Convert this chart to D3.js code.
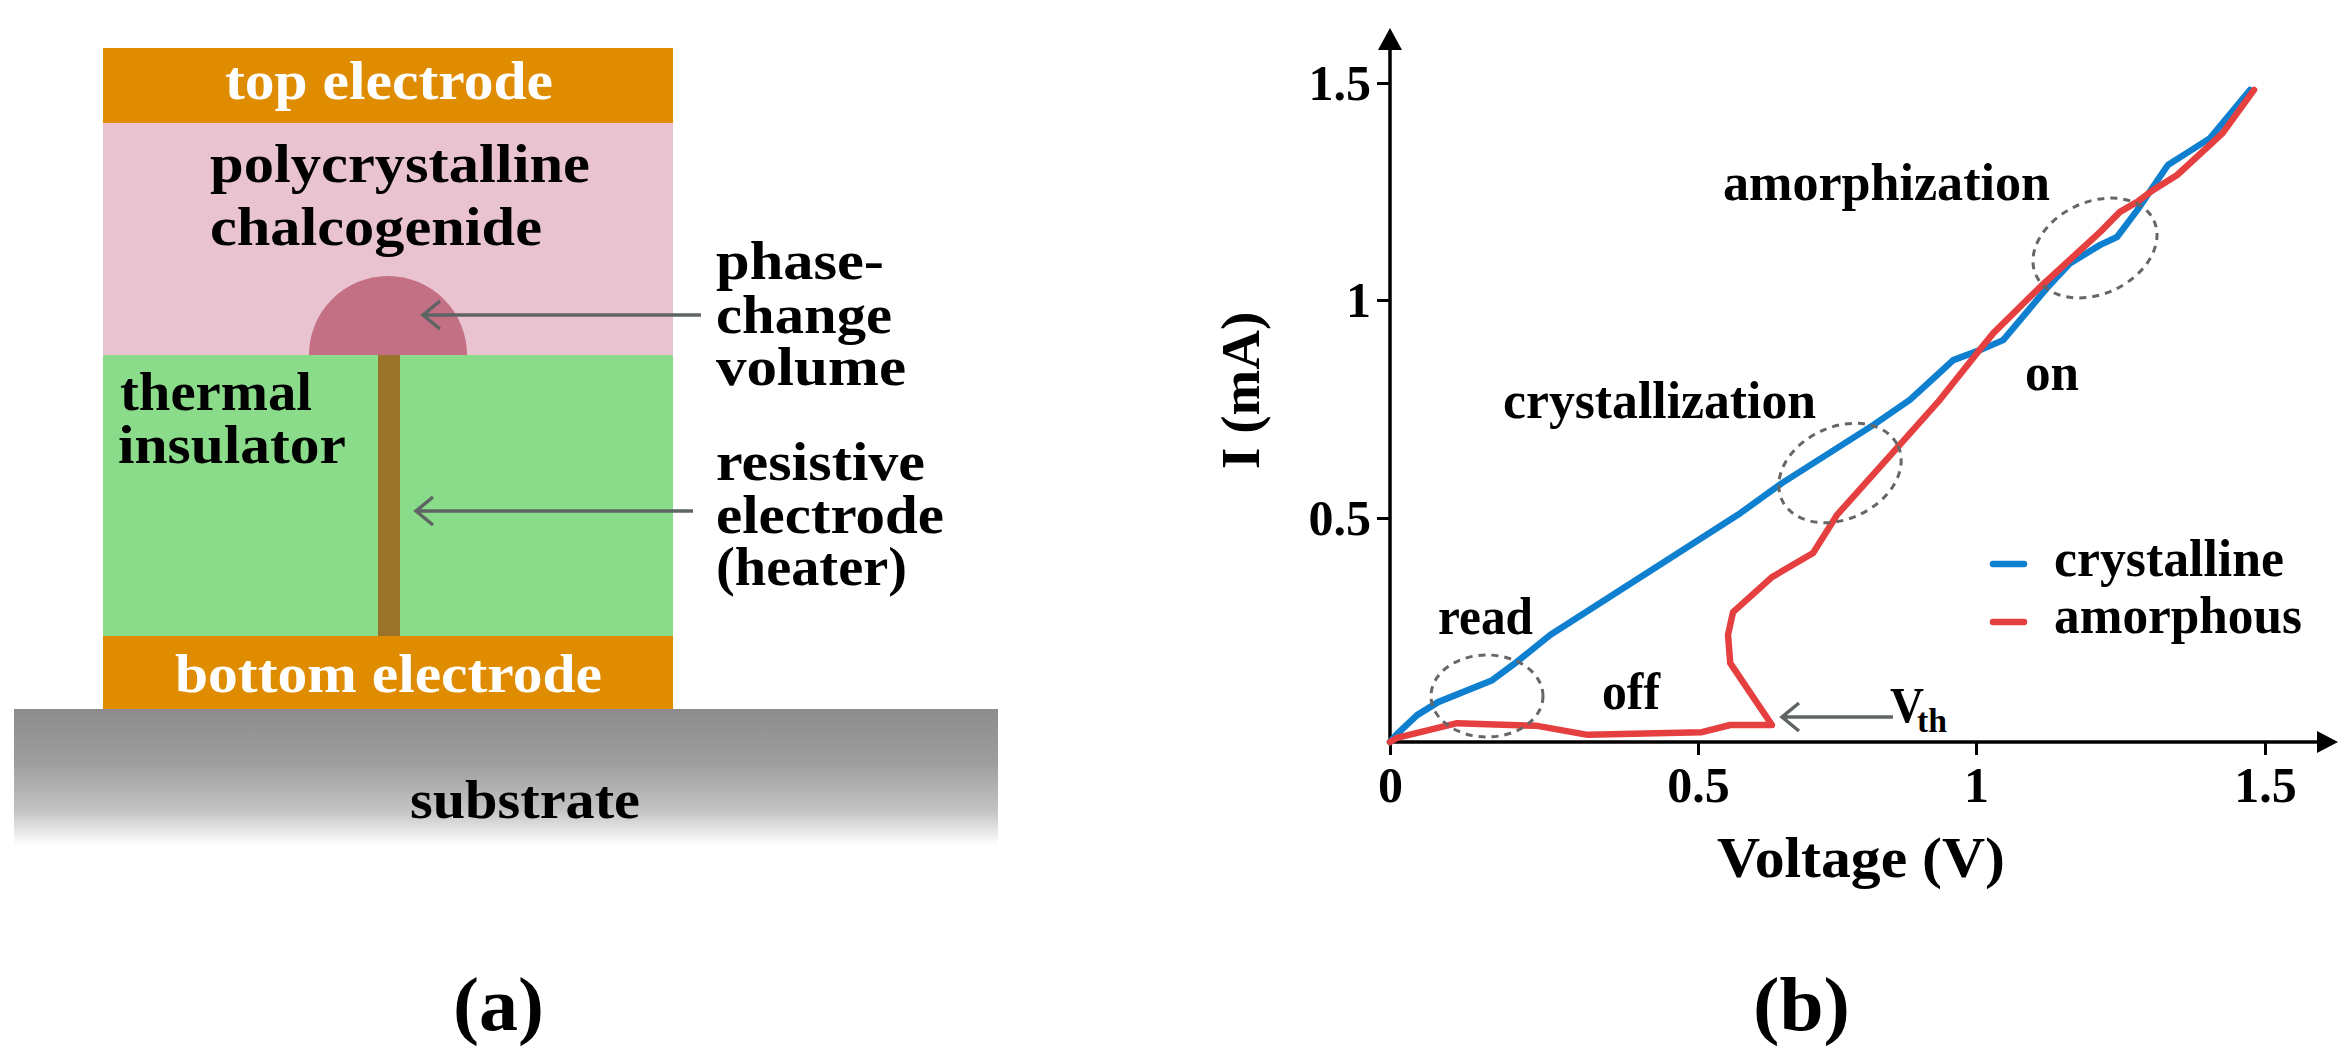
<!DOCTYPE html>
<html>
<head>
  <title>Phase-change memory cell and I-V curve</title>
  <script src="https://d3js.org/d3.v7.min.js"></script>
  <style>
    body { margin: 0; background: #fff; }
    svg { display: block; }
    text { font-family: "Liberation Serif", serif; font-weight: 700; fill: #000; }
    .line { fill: none; stroke-width: 6.5px; stroke-linejoin: round; stroke-linecap: round; }
    .crystalline { stroke: #0f7fd0; }
    .amorphous { stroke: #e5403f; }
    .ring { fill: none; stroke: #666; stroke-width: 3px; stroke-dasharray: 7 6; }
    .pointer { fill: none; stroke: #5f6464; stroke-width: 3.5px; }
  </style>
</head>
<body>
  <svg width="2349" height="1059"></svg>

  <script>
    const crystallineV = [0, 0.013, 0.044, 0.078, 0.166, 0.206, 0.26, 0.576, 0.651, 0.815, 0.881, 0.93, 0.959, 1.007, 1.047, 1.123, 1.163, 1.215, 1.244, 1.279, 1.306, 1.332, 1.365, 1.405, 1.427, 1.474];
    const crystallineI = [0, 0.02, 0.06, 0.089, 0.138, 0.179, 0.239, 0.511, 0.58, 0.713, 0.771, 0.828, 0.862, 0.885, 0.908, 1.028, 1.085, 1.127, 1.145, 1.207, 1.26, 1.311, 1.339, 1.373, 1.408, 1.484];
    const amorphousV = [0, 0.011, 0.109, 0.239, 0.321, 0.507, 0.558, 0.633, 0.558, 0.554, 0.563, 0.633, 0.707, 0.75, 0.858, 0.935, 1.003, 1.03, 1.111, 1.215, 1.249, 1.279, 1.306, 1.348, 1.41, 1.427, 1.481];
    const amorphousI = [0, 0.009, 0.042, 0.036, 0.016, 0.022, 0.038, 0.038, 0.176, 0.239, 0.29, 0.368, 0.422, 0.507, 0.661, 0.771, 0.88, 0.924, 1.03, 1.157, 1.203, 1.226, 1.253, 1.288, 1.364, 1.385, 1.484];
    const xTicks = [0, 0.5, 1, 1.5];
    const yTicks = [0.5, 1, 1.5];

    const svg = d3.select("svg");

    // ticks in the picture are not quite evenly spaced, so the scales have one segment per tick
    const x = d3.scaleLinear().domain(xTicks).range([1390, 1698, 1976, 2265]);
    const y = d3.scaleLinear().domain([0, 0.5, 1, 1.5]).range([742, 518, 300, 83]);

    function label(str, lx, ly, size, width, fill) {
      return svg.append("text")
        .attr("x", lx).attr("y", ly)
        .attr("font-size", size)
        .attr("textLength", width)
        .attr("lengthAdjust", "spacingAndGlyphs")
        .style("fill", fill || "#000")
        .text(str);
    }

    // Panel (a): cell stack
    const defs = svg.append("defs");
    const grad = defs.append("linearGradient").attr("id", "substrate")
      .attr("x1", 0).attr("y1", 0).attr("x2", 0).attr("y2", 1);
    grad.append("stop").attr("offset", "0").attr("stop-color", "#8c8c8c");
    grad.append("stop").attr("offset", "0.4").attr("stop-color", "#9e9e9e");
    grad.append("stop").attr("offset", "0.75").attr("stop-color", "#c4c4c4");
    grad.append("stop").attr("offset", "1").attr("stop-color", "#ffffff");

    svg.append("rect").attr("x", 14).attr("y", 709).attr("width", 984).attr("height", 136).attr("fill", "url(#substrate)");
    svg.append("rect").attr("x", 103).attr("y", 48).attr("width", 570).attr("height", 75).attr("fill", "#e08c00");
    svg.append("rect").attr("x", 103).attr("y", 123).attr("width", 570).attr("height", 232).attr("fill", "#e9c3cf");
    svg.append("rect").attr("x", 103).attr("y", 355).attr("width", 570).attr("height", 281).attr("fill", "#8adc8a");
    svg.append("rect").attr("x", 103).attr("y", 636).attr("width", 570).attr("height", 73).attr("fill", "#e08c00");
    svg.append("rect").attr("x", 378).attr("y", 355).attr("width", 22).attr("height", 281).attr("fill", "#9a732a");
    svg.append("path")
      .attr("transform", "translate(388,355)")
      .attr("d", d3.arc()({ innerRadius: 0, outerRadius: 79, startAngle: -Math.PI / 2, endAngle: Math.PI / 2 }))
      .attr("fill", "#c37084");

    label("top electrode", 225, 99, 54, 328, "#fff");
    label("polycrystalline", 210, 182, 54, 380);
    label("chalcogenide", 210, 245, 54, 332);
    label("thermal", 120, 410, 54, 192);
    label("insulator", 118, 463, 54, 228);
    label("bottom electrode", 175, 692, 54, 427, "#fff");
    label("substrate", 410, 818, 54, 230);
    label("phase-", 716, 279, 54, 168);
    label("change", 716, 333, 54, 176);
    label("volume", 716, 385, 54, 190);
    label("resistive", 716, 480, 54, 209);
    label("electrode", 716, 533, 54, 228);
    label("(heater)", 716, 585, 54, 191);
    label("(a)", 453, 1030, 76, 91);
    label("(b)", 1753, 1030, 76, 97);

    function pointer(tipX, endX, py) {
      svg.append("path").attr("class", "pointer")
        .attr("d", `M${endX},${py}H${tipX}M${tipX + 17},${py - 14}L${tipX},${py}L${tipX + 17},${py + 14}`);
    }
    pointer(423, 701, 315);
    pointer(416, 693, 511);

    // Panel (b): axes
    const xAxis = svg.append("g")
      .attr("transform", `translate(0,${y(0)})`)
      .call(d3.axisBottom(x).tickValues(xTicks).tickFormat(d => d).tickSize(13).tickSizeOuter(0));
    const yAxis = svg.append("g")
      .attr("transform", `translate(${x(0)},0)`)
      .call(d3.axisLeft(y).tickValues(yTicks).tickFormat(d => d).tickSize(13).tickSizeOuter(0));

    xAxis.select(".domain").remove();
    yAxis.select(".domain").remove();
    xAxis.selectAll(".tick line").attr("stroke", "#000").attr("stroke-width", 3);
    yAxis.selectAll(".tick line").attr("stroke", "#000").attr("stroke-width", 3);
    xAxis.selectAll("text").attr("y", 60).attr("dy", 0).attr("font-size", 50).attr("font-family", null);
    yAxis.selectAll("text").attr("x", -19).attr("dy", 16).attr("font-size", 50).attr("font-family", null);
    xAxis.attr("font-family", null);
    yAxis.attr("font-family", null);

    svg.append("path").attr("d", `M${x(0)},${y(0)}H2320`).attr("stroke", "#000").attr("stroke-width", 3.5);
    svg.append("path").attr("d", `M${x(0)},${y(0)}V48`).attr("stroke", "#000").attr("stroke-width", 3.5);
    svg.append("path").attr("d", "M2338,742L2317,731V753Z").attr("fill", "#000");
    svg.append("path").attr("d", "M1390,28L1378,50H1402Z").attr("fill", "#000");

    label("Voltage (V)", 1717, 877, 56, 288);
    svg.append("text")
      .attr("transform", "translate(1259,469) rotate(-90)")
      .attr("font-size", 55)
      .text("I (mA)");

    // Panel (b): curves
    const line = d3.line().x(d => x(d[0])).y(d => y(d[1]));
    svg.append("path").attr("class", "line crystalline").attr("d", line(d3.zip(crystallineV, crystallineI)));
    svg.append("path").attr("class", "line amorphous").attr("d", line(d3.zip(amorphousV, amorphousI)));

    // dashed rings around the operating regions
    function ring(cx, cy, rx, ry, angle) {
      svg.append("ellipse").attr("class", "ring")
        .attr("rx", rx).attr("ry", ry)
        .attr("transform", `translate(${cx},${cy}) rotate(${angle})`);
    }
    ring(1487, 696, 56, 41, 0);
    ring(1840, 473, 64, 46, -25);
    ring(2095, 248, 65, 46, -25);

    label("read", 1438, 634, 52, 95);
    label("off", 1602, 709, 52, 58);
    label("crystallization", 1503, 418, 52, 313);
    label("amorphization", 1723, 200, 52, 327);
    label("on", 2025, 390, 52, 54);

    pointer(1782, 1893, 717);
    label("V", 1890, 722, 50, 34);
    label("th", 1917, 732, 34, 30);

    // legend
    svg.append("line").attr("class", "line crystalline").attr("x1", 1993).attr("x2", 2024).attr("y1", 564).attr("y2", 564);
    svg.append("line").attr("class", "line amorphous").attr("x1", 1993).attr("x2", 2024).attr("y1", 622).attr("y2", 622);
    label("crystalline", 2054, 576, 52, 230);
    label("amorphous", 2054, 633, 52, 248);
  </script>
</body>
</html>
